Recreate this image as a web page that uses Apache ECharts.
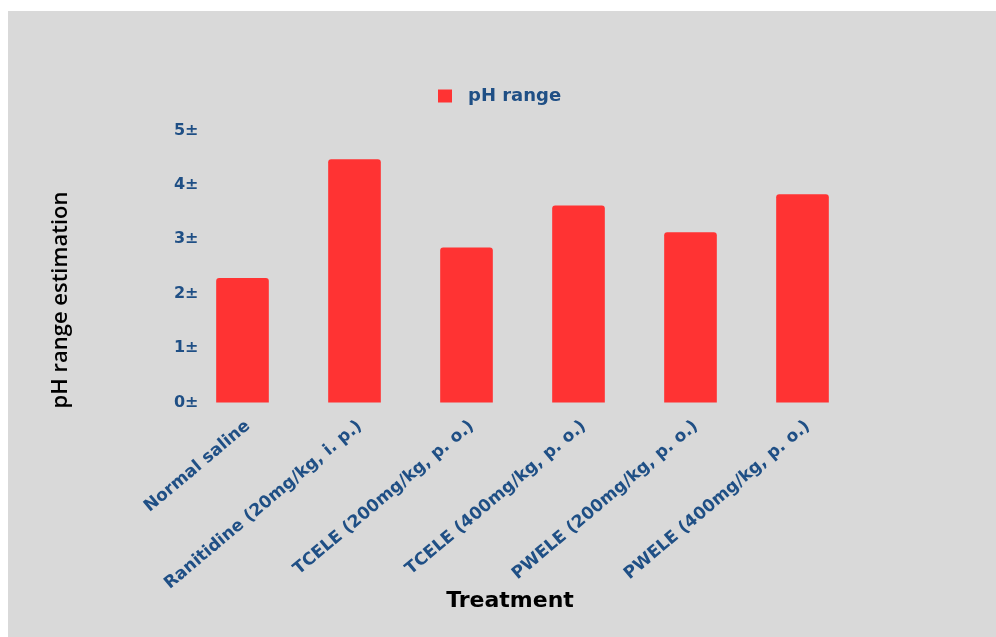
<!DOCTYPE html>
<html>
<head>
<meta charset="utf-8">
<script src="https://cdn.jsdelivr.net/npm/echarts@6/dist/echarts.min.js"></script>
<style>
  html, body { margin: 0; padding: 0; background: #ffffff; }
  #panel { position: absolute; left: 8px; top: 11px; right: 0; bottom: 0; background: #d9d9d9; }
  #chart { position: absolute; left: 0; top: 0; width: 996px; height: 637px; }
</style>
</head>
<body>
<div id="panel"></div>
<div id="chart"></div>
<script>
// Treatment groups and mean gastric pH
const categories = [
  'Normal saline',
  'Ranitidine (20mg/kg, i. p.)',
  'TCELE (200mg/kg, p. o.)',
  'TCELE (400mg/kg, p. o.)',
  'PWELE (200mg/kg, p. o.)',
  'PWELE (400mg/kg, p. o.)'
];
const phValues = [2.29, 4.47, 2.85, 3.62, 3.13, 3.83];
const seriesName = 'pH range';
const yTicks = [0, 1, 2, 3, 4, 5];
const xTitle = 'Treatment';
const yTitle = 'pH range estimation';

const blue = '#1f4f85';
const red = '#ff3333';
const labelFont = '"DejaVu Sans", sans-serif';

const chart = echarts.init(document.getElementById('chart'), null, { renderer: 'canvas' });
chart.setOption({
  backgroundColor: 'transparent',
  animation: false,
  legend: {
    data: [seriesName],
    left: 433,
    top: 82,
    icon: 'rect',
    itemWidth: 14,
    itemHeight: 13,
    itemGap: 10,
    textStyle: { color: blue, fontFamily: labelFont, fontWeight: 'bold', fontSize: 18, padding: [0, 0, 0, 11] }
  },
  grid: { left: 186.5, right: 137.5, top: 130.5, bottom: 234.5, containLabel: false },
  xAxis: {
    type: 'category',
    data: categories,
    axisLine: { show: false },
    axisTick: { show: false },
    axisLabel: {
      interval: 0,
      rotate: 40,
      margin: 15,
      verticalAlign: 'top',
      color: blue,
      fontFamily: labelFont,
      fontWeight: 'bold',
      fontSize: 17
    }
  },
  yAxis: {
    type: 'value',
    min: yTicks[0],
    max: yTicks[yTicks.length - 1],
    interval: 1,
    axisLine: { show: false },
    axisTick: { show: false },
    splitLine: { show: false },
    axisLabel: {
      margin: -12,
      color: blue,
      fontFamily: labelFont,
      fontWeight: 'bold',
      fontSize: 16,
      formatter: v => v + '±'
    }
  },
  graphic: [
    {
      type: 'text',
      x: 510, y: 601,
      style: {
        text: xTitle,
        fill: '#000',
        font: 'bold 22px "DejaVu Sans", sans-serif',
        align: 'center',
        verticalAlign: 'middle'
      }
    },
    {
      type: 'text',
      x: 61, y: 300,
      rotation: Math.PI / 2,
      style: {
        text: yTitle,
        fill: '#000',
        font: '600 22px "Open Sans", sans-serif',
        align: 'center',
        verticalAlign: 'middle'
      }
    }
  ],
  series: [{
    name: seriesName,
    type: 'bar',
    data: phValues,
    barWidth: '47%',
    itemStyle: { color: red, borderRadius: [3, 3, 0, 0] }
  }]
});
</script>
</body>
</html>
